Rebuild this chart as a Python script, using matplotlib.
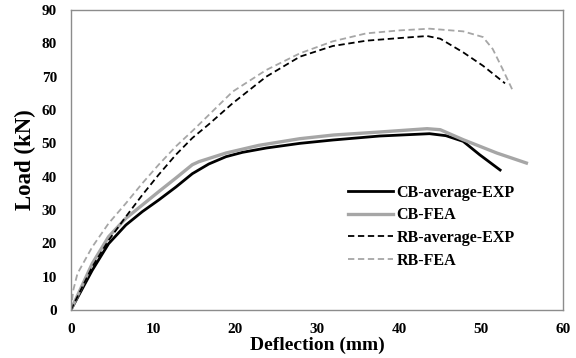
import matplotlib.pyplot as plt

# load-deflection curves (mm, kN)
cb_exp_x = [0, 2.6, 4.6, 6.7, 8.7, 10.7, 12.8, 14.8, 16.8, 18.9, 20.9, 23.8, 27.9, 31.9, 37.6, 43.7, 45.7, 47.8, 49.8, 52.3]
cb_exp_y = [0, 11.9, 19.9, 25.5, 29.5, 33.0, 36.9, 40.9, 43.8, 46.0, 47.3, 48.6, 50.0, 51.0, 52.2, 52.9, 52.3, 50.6, 46.6, 42.0]

cb_fea_x = [0, 2.6, 4.6, 6.7, 8.7, 10.7, 12.8, 14.8, 15.6, 18.9, 22.9, 27.9, 32.0, 37.6, 43.4, 45.0, 47.8, 51.9, 55.5]
cb_fea_y = [0, 13.9, 22.0, 27.5, 31.5, 35.5, 39.6, 43.6, 44.5, 47.1, 49.4, 51.4, 52.5, 53.4, 54.4, 54.1, 51.1, 47.1, 44.1]

rb_exp_x = [0, 2.6, 4.6, 6.7, 8.7, 10.7, 12.8, 14.8, 16.8, 19.7, 23.8, 27.9, 31.9, 36.0, 40.1, 43.4, 45.0, 47.8, 50.2, 52.9]
rb_exp_y = [0, 12.9, 20.9, 28.0, 34.5, 40.6, 46.6, 51.6, 55.7, 62.0, 70.0, 76.0, 79.2, 80.8, 81.6, 82.2, 81.4, 77.3, 73.3, 68.0]

rb_fea_x = [0, 0.3, 0.8, 2.6, 4.6, 6.7, 8.7, 10.7, 12.8, 14.8, 16.8, 19.7, 23.8, 27.9, 31.9, 36.0, 40.1, 43.7, 47.8, 50.2, 51.4, 52.6, 53.9]
rb_fea_y = [0, 6.0, 10.9, 18.9, 26.0, 32.0, 38.0, 43.6, 49.1, 53.7, 58.5, 65.5, 72.0, 77.0, 80.6, 83.0, 83.9, 84.4, 83.6, 81.9, 78.3, 72.3, 65.5]

labels = ['CB-average-EXP', 'CB-FEA', 'RB-average-EXP', 'RB-FEA']

plt.rcParams['font.family'] = ['Liberation Serif', 'DejaVu Serif']
plt.rcParams['font.weight'] = 'bold'

fig = plt.figure(figsize=(5.76, 3.58), dpi=100)
ax = fig.add_axes([0.123, 0.134, 0.855, 0.838])

ax.plot(cb_exp_x, cb_exp_y, color='black', lw=2.0, label=labels[0])
ax.plot(cb_fea_x, cb_fea_y, color='#a6a6a6', lw=2.4, label=labels[1])
ax.plot(rb_exp_x, rb_exp_y, color='black', lw=1.3, ls=(0, (3.5, 2)), label=labels[2])
ax.plot(rb_fea_x, rb_fea_y, color='#a6a6a6', lw=1.3, ls=(0, (3.5, 2)), label=labels[3])

ax.set_xlim(0, 60)
ax.set_ylim(0, 90)
ax.set_xticks(range(0, 61, 10))
ax.set_yticks(range(0, 91, 10))
ax.tick_params(length=0, labelsize=11)
ax.tick_params(axis='x', pad=9)
ax.tick_params(axis='y', pad=10)
for lab in ax.get_xticklabels() + ax.get_yticklabels():
    lab.set_fontweight('bold')

for s in ax.spines.values():
    s.set_color('#8c8c8c')
    s.set_linewidth(1.0)

ax.set_xlabel('Deflection (mm)', fontsize=14, fontweight='bold', labelpad=1)
ax.set_ylabel('Load (kN)', fontsize=16.5, fontweight='bold', labelpad=4)

ax.legend(loc='lower right', bbox_to_anchor=(0.93, 0.09), frameon=False,
          prop={'size': 11.5, 'weight': 'bold'}, handlelength=2.8,
          handletextpad=0.2, labelspacing=0.42)

fig.savefig('out.png', dpi=100)
